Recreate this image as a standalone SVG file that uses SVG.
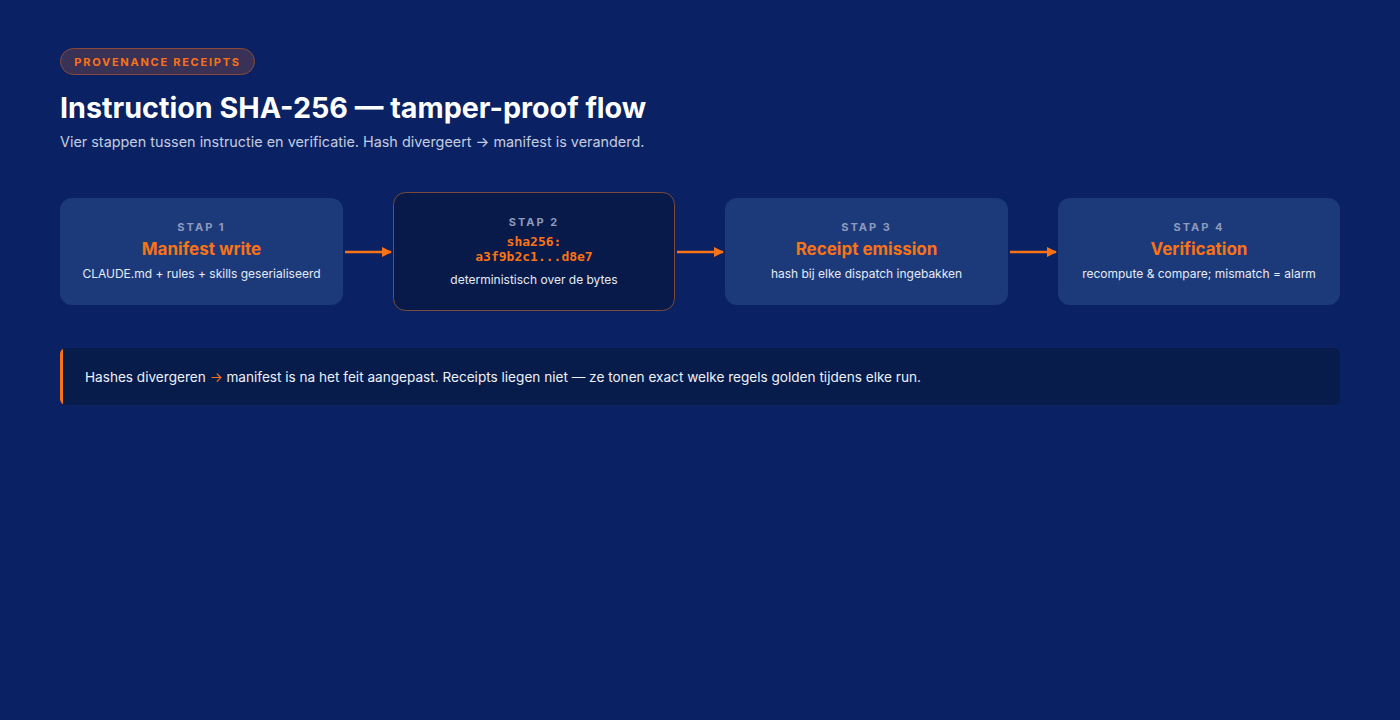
<svg xmlns="http://www.w3.org/2000/svg" width="1400" height="720" viewBox="0 0 1400 720">
<defs>
<marker id="ah" viewBox="0 0 10 10" refX="9" refY="5" markerWidth="10" markerHeight="10" markerUnits="userSpaceOnUse" orient="auto">
<path d="M0,0 L10,5 L0,10 z" fill="#f97316"/>
</marker>
<clipPath id="cc"><rect x="60" y="348" width="1280" height="57" rx="6"/></clipPath>
</defs>
<style>
text{font-family:Inter,"Noto Sans","Liberation Sans",sans-serif}
.card{fill:#1c3a7a}
.stap{font-size:11px;font-weight:700;letter-spacing:2px;fill:#8e9bbd;text-anchor:middle}
.ttl{font-size:17px;font-weight:700;fill:#f97316;text-anchor:middle}
.desc{font-size:12px;fill:#e6ebf5;text-anchor:middle}
.mono{font-family:"DejaVu Sans Mono","Liberation Mono",monospace;font-size:13px;font-weight:700;fill:#f97316;text-anchor:middle}
.conn{stroke:#f97316;stroke-width:2.5;fill:none}
</style>
<rect width="1400" height="720" fill="#0a2263"/>
<g id="header">
<rect x="60.5" y="48.5" width="194" height="26" rx="13" fill="#3a3157" stroke="#8a4a3a" stroke-width="1"/>
<text x="157.5" y="65.5" text-anchor="middle" font-size="11" font-weight="700" letter-spacing="1.75" fill="#f97316">PROVENANCE RECEIPTS</text>
<text x="60" y="118" font-size="28.7" font-weight="700" fill="#ffffff">Instruction SHA-256 — tamper-proof flow</text>
<text x="60" y="147" font-size="14.4" fill="#c3cbe0">Vier stappen tussen instructie en verificatie. Hash divergeert → manifest is veranderd.</text>
</g>
<g id="step1">
<rect class="card" x="60" y="198" width="283" height="107" rx="12"/>
<text class="stap" x="201.5" y="231">STAP 1</text>
<text class="ttl" x="201.5" y="255">Manifest write</text>
<text class="desc" x="201.5" y="278">CLAUDE.md + rules + skills geserialiseerd</text>
</g>
<g id="step2">
<rect x="393.5" y="192.5" width="281" height="118" rx="12" fill="#081a4a" stroke="#7a4a3c" stroke-width="1"/>
<text class="stap" x="534" y="226">STAP 2</text>
<text class="mono" x="534" y="246">sha256:</text>
<text class="mono" x="534" y="261">a3f9b2c1...d8e7</text>
<text class="desc" x="534" y="284">deterministisch over de bytes</text>
</g>
<g id="step3">
<rect class="card" x="725" y="198" width="283" height="107" rx="12"/>
<text class="stap" x="866.5" y="231">STAP 3</text>
<text class="ttl" x="866.5" y="255">Receipt emission</text>
<text class="desc" x="866.5" y="278">hash bij elke dispatch ingebakken</text>
</g>
<g id="step4">
<rect class="card" x="1058" y="198" width="282" height="107" rx="12"/>
<text class="stap" x="1199" y="231">STAP 4</text>
<text class="ttl" x="1199" y="255">Verification</text>
<text class="desc" x="1199" y="278">recompute &amp; compare; mismatch = alarm</text>
</g>
<g id="connectors">
<line class="conn" x1="345" y1="252" x2="391" y2="252" marker-end="url(#ah)"/>
<line class="conn" x1="677" y1="252" x2="723" y2="252" marker-end="url(#ah)"/>
<line class="conn" x1="1010" y1="252" x2="1056" y2="252" marker-end="url(#ah)"/>
</g>
<g id="callout">
<rect x="60" y="348" width="1280" height="57" rx="6" fill="#081c4c"/>
<rect x="60" y="348" width="3" height="57" fill="#f97316" clip-path="url(#cc)"/>
<text x="85" y="382" font-size="13.6" fill="#eef1f8">Hashes divergeren <tspan fill="#f97316">→</tspan> manifest is na het feit aangepast. Receipts liegen niet — ze tonen exact welke regels golden tijdens elke run.</text>
</g>
</svg>
